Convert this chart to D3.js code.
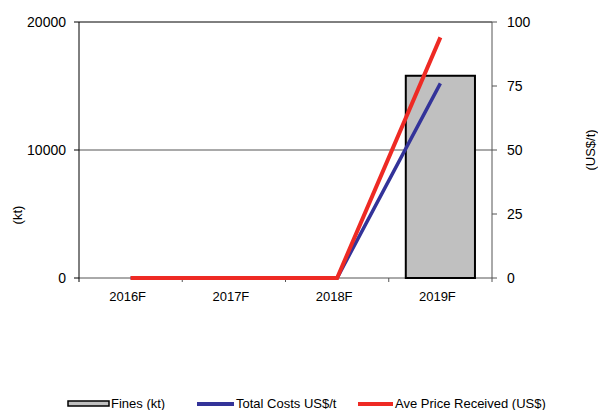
<!doctype html>
<html>
<head>
<style type="text/css">
body { margin: 0; background: #fff; }
svg { font-family: "Liberation Sans", Arial, sans-serif; }
</style>
<script src="https://cdnjs.cloudflare.com/ajax/libs/d3/7.8.5/d3.min.js"></script>
</head>
<body>
<script type="text/javascript">
var width = 598, height = 410;

// chart data
var years = ["2016F", "2017F", "2018F", "2019F"];
var fines = [0, 0, 0, 15800];          // kt, left axis
var totalCosts = [0, 0, 0, 76];        // US$/t, right axis
var avePrice = [0, 0, 0, 94];          // US$/t, right axis
var leftTicks = [0, 10000, 20000];
var rightTicks = [0, 25, 50, 75, 100];

var plotLeft = 79, plotRight = 492, plotTop = 22, plotBottom = 278;

var svg = d3.select("body").append("svg")
	.attr("width", width)
	.attr("height", height);

var x = d3.scaleBand().domain(years).range([plotLeft, plotRight]);
var yL = d3.scaleLinear().domain([0, 20000]).range([plotBottom, plotTop]);
var yR = d3.scaleLinear().domain([0, 100]).range([plotBottom, plotTop]);

// gridlines
svg.selectAll(".grid").data(leftTicks).enter().append("line")
	.attr("x1", plotLeft).attr("x2", plotRight)
	.attr("y1", function(d) { return yL(d); })
	.attr("y2", function(d) { return yL(d); })
	.style("stroke", d => d === 20000 ? "#000" : "#555")
	.style("stroke-width", 1);

// bars (skip zero values)
var barData = years.map(function(y, i) { return {year: y, value: fines[i]}; })
	.filter(function(d) { return d.value > 0; });
svg.selectAll(".bar").data(barData).enter().append("rect")
	.attr("x", function(d) { return x(d.year) + x.bandwidth() * 0.165; })
	.attr("width", x.bandwidth() * 0.67)
	.attr("y", function(d) { return yL(d.value); })
	.attr("height", function(d) { return plotBottom - yL(d.value); })
	.style("fill", "#c0c0c0")
	.style("stroke", "#000")
	.style("stroke-width", 2);

// left axis
svg.append("line").attr("x1", plotLeft).attr("x2", plotLeft).attr("y1", plotTop).attr("y2", plotBottom + 4)
	.style("stroke", "#000");
svg.selectAll(".ltick").data(leftTicks).enter().append("line")
	.attr("x1", plotLeft - 5).attr("x2", plotLeft)
	.attr("y1", d => yL(d)).attr("y2", d => yL(d))
	.style("stroke", "#000");
svg.selectAll(".llab").data(leftTicks).enter().append("text")
	.attr("x", plotLeft - 13).attr("y", d => yL(d) + 5)
	.attr("text-anchor", "end").style("font-size", "14px")
	.text(d => d);

// right axis
svg.append("line").attr("x1", plotRight).attr("x2", plotRight).attr("y1", plotTop).attr("y2", plotBottom + 4)
	.style("stroke", "#555");
svg.selectAll(".rtick").data(rightTicks).enter().append("line")
	.attr("x1", plotRight).attr("x2", plotRight + 5)
	.attr("y1", d => yR(d)).attr("y2", d => yR(d))
	.style("stroke", "#555");
svg.selectAll(".rlab").data(rightTicks).enter().append("text")
	.attr("x", plotRight + 15).attr("y", d => yR(d) + 5)
	.style("font-size", "14px")
	.text(d => d);

// x ticks at band boundaries
var bounds = years.map(d => x(d)).concat([plotRight]);
svg.selectAll(".xtick").data(bounds.slice(1, 4)).enter().append("line")
	.attr("x1", d => d).attr("x2", d => d)
	.attr("y1", plotBottom).attr("y2", plotBottom + 4)
	.style("stroke", "#555");
svg.selectAll(".xlab").data(years).enter().append("text")
	.attr("x", d => x(d) + x.bandwidth() / 2 - 3)
	.attr("y", plotBottom + 23)
	.attr("text-anchor", "middle").style("font-size", "13px")
	.text(d => d);

// lines
var line = d3.line()
	.x(function(d, i) { return x(years[i]) + x.bandwidth() / 2; })
	.y(function(d) { return yR(d); });

svg.append("path").datum(totalCosts).attr("d", line)
	.style("fill", "none").style("stroke", "#333399").style("stroke-width", 3.5);
svg.append("path").datum(avePrice).attr("d", line)
	.style("fill", "none").style("stroke", "#ee2a24").style("stroke-width", 4);

// axis titles
svg.append("text").attr("transform", "translate(22,215) rotate(-90)")
	.attr("text-anchor", "middle").style("font-size", "13px").text("(kt)");
svg.append("text").attr("transform", "translate(595,150) rotate(-90)")
	.attr("text-anchor", "middle").style("font-size", "13px").text("(US$/t)");

// legend
var ly = 404;
svg.append("rect").attr("x", 68).attr("y", ly - 3).attr("width", 41).attr("height", 5)
	.style("fill", "#c0c0c0").style("stroke", "#000").style("stroke-width", 1.5);
svg.append("text").attr("x", 111).attr("y", ly + 4).style("font-size", "13px").text("Fines (kt)");
svg.append("line").attr("x1", 197).attr("x2", 234).attr("y1", ly).attr("y2", ly)
	.style("stroke", "#333399").style("stroke-width", 4);
svg.append("text").attr("x", 236).attr("y", ly + 4).style("font-size", "13px").text("Total Costs US$/t");
svg.append("line").attr("x1", 358).attr("x2", 393).attr("y1", ly).attr("y2", ly)
	.style("stroke", "#ee2a24").style("stroke-width", 4);
svg.append("text").attr("x", 395).attr("y", ly + 4).style("font-size", "13px").text("Ave Price Received (US$)");
</script>
</body>
</html>
